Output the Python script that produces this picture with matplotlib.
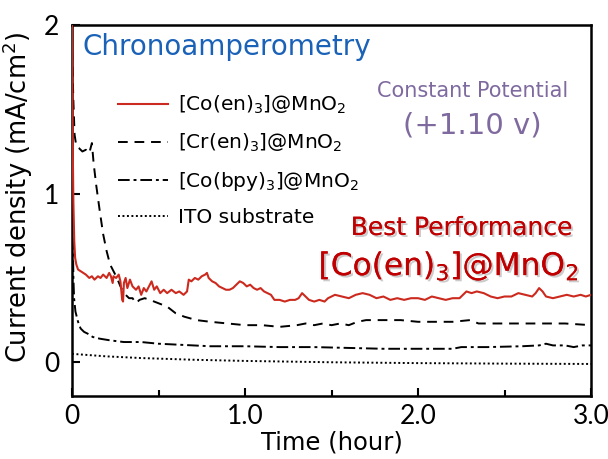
import matplotlib
matplotlib.use("Agg")
import matplotlib.pyplot as plt
import matplotlib.patheffects as pe

plt.rcParams["font.family"] = ["DejaVu Sans"]
plt.rcParams["mathtext.fontset"] = "dejavusans"

# [Co(en)3]@MnO2
t_coen = [0.000, 0.004, 0.008, 0.013, 0.018, 0.025, 0.035, 0.05, 0.065, 0.08,
          0.10, 0.115, 0.13, 0.15, 0.165, 0.18, 0.20, 0.215, 0.225, 0.235,
          0.24, 0.255, 0.27, 0.28, 0.29, 0.295, 0.30, 0.31, 0.32, 0.335,
          0.35, 0.37, 0.385, 0.40, 0.415, 0.43, 0.445, 0.46, 0.475, 0.49,
          0.51, 0.53, 0.55, 0.575, 0.60, 0.62, 0.645, 0.665, 0.675, 0.69,
          0.71, 0.73, 0.75, 0.77, 0.78, 0.79, 0.81, 0.83, 0.85, 0.87,
          0.89, 0.91, 0.93, 0.95, 0.97, 0.99, 1.01, 1.03, 1.05, 1.07,
          1.09, 1.11, 1.13, 1.15, 1.17, 1.20, 1.23, 1.26, 1.29, 1.31,
          1.33, 1.35, 1.37, 1.40, 1.43, 1.46, 1.48, 1.52, 1.56, 1.60,
          1.64, 1.68, 1.72, 1.76, 1.80, 1.84, 1.88, 1.92, 1.96, 2.00,
          2.04, 2.08, 2.12, 2.16, 2.20, 2.24, 2.28, 2.31, 2.34, 2.38,
          2.42, 2.46, 2.50, 2.54, 2.58, 2.62, 2.66, 2.68, 2.70, 2.72,
          2.74, 2.78, 2.82, 2.86, 2.90, 2.94, 2.97, 3.00]
j_coen = [2.00, 1.30, 0.95, 0.72, 0.62, 0.58, 0.55, 0.54, 0.53, 0.52,
          0.50, 0.51, 0.49, 0.51, 0.50, 0.52, 0.50, 0.53, 0.51, 0.47,
          0.51, 0.50, 0.52, 0.48, 0.37, 0.36, 0.47, 0.50, 0.44, 0.49,
          0.45, 0.43, 0.45, 0.40, 0.44, 0.42, 0.45, 0.48, 0.43, 0.45,
          0.41, 0.43, 0.41, 0.43, 0.41, 0.42, 0.40, 0.42, 0.49, 0.48,
          0.50, 0.49, 0.51, 0.52, 0.53, 0.50, 0.48, 0.47, 0.45, 0.44,
          0.43, 0.43, 0.44, 0.46, 0.48, 0.47, 0.45, 0.46, 0.44, 0.43,
          0.44, 0.42, 0.41, 0.40, 0.37, 0.37, 0.36, 0.37, 0.37, 0.38,
          0.41, 0.39, 0.37, 0.36, 0.37, 0.36, 0.38, 0.40, 0.39, 0.38,
          0.40, 0.41, 0.40, 0.38, 0.39, 0.37, 0.38, 0.37, 0.38, 0.38,
          0.37, 0.39, 0.38, 0.37, 0.38, 0.38, 0.42, 0.41, 0.42, 0.41,
          0.39, 0.38, 0.39, 0.39, 0.41, 0.40, 0.39, 0.41, 0.44, 0.42,
          0.39, 0.38, 0.39, 0.40, 0.39, 0.40, 0.39, 0.40]

# [Cr(en)3]@MnO2
t_cren = [0.000, 0.008, 0.015, 0.025, 0.04, 0.06, 0.08, 0.10, 0.115, 0.125,
          0.14, 0.16, 0.18, 0.20, 0.22, 0.24, 0.26, 0.28, 0.30, 0.33,
          0.35, 0.37, 0.39, 0.42, 0.45, 0.50, 0.55, 0.60, 0.65, 0.72,
          0.80, 0.90, 1.00, 1.10, 1.20, 1.30, 1.35, 1.40, 1.45, 1.50,
          1.55, 1.60, 1.65, 1.70, 1.80, 1.90, 2.00, 2.10, 2.20, 2.30,
          2.35, 2.50, 2.70, 2.85, 3.00]
j_cren = [1.85, 1.55, 1.35, 1.28, 1.27, 1.25, 1.26, 1.24, 1.30, 1.18,
          1.05, 0.90, 0.76, 0.66, 0.58, 0.54, 0.50, 0.45, 0.41, 0.38,
          0.38, 0.35, 0.37, 0.38, 0.37, 0.35, 0.33, 0.29, 0.27, 0.25,
          0.24, 0.23, 0.22, 0.22, 0.21, 0.22, 0.23, 0.22, 0.23, 0.22,
          0.23, 0.22, 0.24, 0.25, 0.25, 0.25, 0.24, 0.24, 0.24, 0.25,
          0.23, 0.23, 0.23, 0.23, 0.22]

# [Co(bpy)3]@MnO2
t_cobpy = [0.000, 0.004, 0.008, 0.012, 0.02, 0.035, 0.05, 0.07, 0.09, 0.12,
           0.16, 0.22, 0.30, 0.40, 0.50, 0.60, 0.70, 0.80, 0.90, 1.00,
           1.20, 1.40, 1.60, 1.80, 2.00, 2.20, 2.25, 2.40, 2.60, 2.70,
           2.74, 2.78, 2.85, 2.90, 2.95, 3.00]
j_cobpy = [1.40, 0.80, 0.50, 0.38, 0.30, 0.24, 0.20, 0.18, 0.17, 0.15,
           0.14, 0.13, 0.12, 0.12, 0.11, 0.105, 0.10, 0.095, 0.095, 0.095,
           0.09, 0.09, 0.085, 0.08, 0.08, 0.08, 0.09, 0.09, 0.095, 0.10,
           0.11, 0.10, 0.10, 0.09, 0.10, 0.10]

# ITO substrate
t_ito = [0.0, 0.2, 0.4, 0.7, 1.0, 1.5, 2.0, 2.5, 3.0]
j_ito = [0.05, 0.035, 0.025, 0.015, 0.008, 0.0, -0.005, -0.008, -0.01]

labels = ["[Co(en)$_3$]@MnO$_2$", "[Cr(en)$_3$]@MnO$_2$",
          "[Co(bpy)$_3$]@MnO$_2$", "ITO substrate"]
x_ticks = [0, 1, 2, 3]
x_ticklabels = ["0", "1.0", "2.0", "3.0"]
y_ticks = [0, 1, 2]
y_ticklabels = ["0", "1", "2"]

W, H = 608, 459
fig = plt.figure(figsize=(W / 100, H / 100), dpi=100)
ax = fig.add_axes([72 / W, 1 - 396 / H, (591 - 72) / W, (396 - 25) / H])

ax.plot(t_coen, j_coen, color="#cc2a1e", lw=1.5, label=labels[0], zorder=4)
ax.plot(t_cren, j_cren, color="black", lw=1.4, ls=(0, (5, 3.5)), label=labels[1])
ax.plot(t_cobpy, j_cobpy, color="black", lw=1.4, ls=(0, (6, 2, 1.5, 2)), label=labels[2])
ax.plot(t_ito, j_ito, color="black", lw=1.4, ls=(0, (1, 1.3)), label=labels[3])

ax.set_xlim(0, 3.0)
ax.set_ylim(-0.2, 2.0)
ax.set_xticks(x_ticks)
ax.set_xticklabels(x_ticklabels, family="Lato")
ax.set_xticks([0.5, 1.5, 2.5], minor=True)
ax.set_yticks(y_ticks)
ax.set_yticklabels(y_ticklabels, family="Lato")
ax.tick_params(which="both", direction="in", width=1.5, labelsize=19)
ax.tick_params(which="major", length=6)
ax.tick_params(which="minor", length=4)
ax.tick_params(axis="x", pad=6)
ax.tick_params(axis="y", pad=9)
for s in ax.spines.values():
  s.set_linewidth(1.8)

ax.set_xlabel("Time (hour)", fontsize=17.5, labelpad=1)
ax.set_ylabel("Current density (mA/cm$^2$)", fontsize=18.5)
ax.yaxis.set_label_coords(-0.072, 0.535)

ax.legend(loc="upper left", bbox_to_anchor=(0.089, 0.815), frameon=False,
          fontsize=14.5, handlelength=2.45, handletextpad=0.5, labelspacing=0.78,
          borderpad=0, borderaxespad=0)

ax.text(0.021, 0.94, "Chronoamperometry", transform=ax.transAxes,
        ha="left", va="center", fontsize=20, color="#1a62b8")
ax.text(0.771, 0.822, "Constant Potential", transform=ax.transAxes,
        ha="center", va="center", fontsize=15, color="#7f6a9f")
ax.text(0.771, 0.73, "(+1.10 v)", transform=ax.transAxes,
        ha="center", va="center", fontsize=21, color="#7f6a9f")

shadow = [pe.withSimplePatchShadow(offset=(1.5, -1.5), shadow_rgbFace="#999999", alpha=0.5),
          pe.Normal()]
ax.text(0.751, 0.453, "Best Performance", transform=ax.transAxes,
        ha="center", va="center", fontsize=18, color="#c00000", path_effects=shadow)
ax.text(0.726, 0.35, "[Co(en)$_3$]@MnO$_2$", transform=ax.transAxes,
        ha="center", va="center", fontsize=22.5, color="#c00000", path_effects=shadow)

fig.savefig("out.png", dpi=100, facecolor="white")
